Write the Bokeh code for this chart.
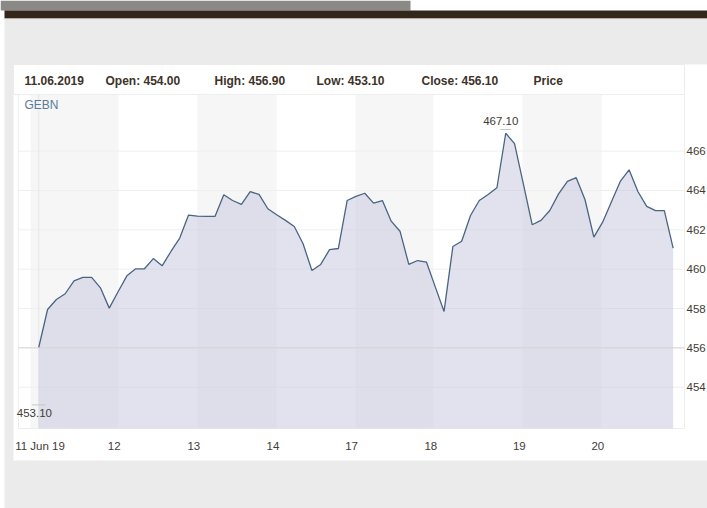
from bokeh.plotting import figure
from bokeh.models import Range1d
from bokeh.core.properties import value
from bokeh.embed import file_html
from bokeh.resources import INLINE

# ---------------- data ----------------
prices = [456.03, 457.95, 458.46, 458.75, 459.41, 459.58, 459.58, 459.05, 458.02, 458.85,
          459.66, 460.02, 460.02, 460.54, 460.17, 460.90, 461.58, 462.75, 462.70, 462.68,
          462.68, 463.78, 463.49, 463.29, 463.94, 463.80, 463.07, 462.77, 462.48, 462.17,
          461.29, 459.93, 460.24, 460.99, 461.05, 463.49, 463.70, 463.86, 463.36, 463.49,
          462.44, 461.93, 460.24, 460.44, 460.36, 459.10, 457.85, 461.15, 461.42, 462.73,
          463.49, 463.80, 464.14, 466.91, 466.38, 464.34, 462.26, 462.48, 462.98, 463.83,
          464.46, 464.65, 463.53, 461.63, 462.39, 463.43, 464.46, 465.05, 463.95, 463.19,
          462.98, 462.98, 461.07]
idx = list(range(len(prices)))

day_labels = ["11 Jun 19", "12", "13", "14", "17", "18", "19", "20"]
day_label_pos = [0.14, 8.56, 17.6, 26.58, 35.5, 44.5, 54.54, 63.45]
day_edges = [-0.94, 9.05, 18.0, 27.0, 35.95, 44.8, 54.9, 63.9, 73.29]
y_ticks = [454, 456, 458, 460, 462, 464, 466]

ticker_name = "GEBN"
date_str = "11.06.2019"
open_px = 454.00
high_px = 456.90
low_px = 453.10
close_px = 456.10
ref_level = 456
session_high = 467.10
session_high_idx = 53
session_low = 453.10
session_low_idx = 0

# visible value window of the chart area
x_lo, x_hi = -2.30, 73.29
y_lo, y_hi = 451.9, 468.88

# ---------------- layout (canvas pixels) ----------------
W, H = 707, 508
CH_L, CH_R, CH_T, CH_B = 18, 684, 94, 428   # chart area

FONT = "Liberation Sans"
TXT = "#3d3329"
AX = "#3f3b36"

kx = (CH_R - CH_L) / (x_hi - x_lo)
ky = (CH_B - CH_T) / (y_hi - y_lo)
xr = Range1d(x_lo - CH_L / kx, x_hi + (W - CH_R) / kx)
yr = Range1d(y_lo - (H - CH_B) / ky, y_hi + CH_T / ky)

p = figure(width=W, height=H, output_backend="svg", toolbar_location=None,
           x_range=xr, y_range=yr, x_axis_location=None, y_axis_location=None,
           min_border=0, min_border_left=0, min_border_right=0,
           min_border_top=0, min_border_bottom=0)
p.extra_x_ranges = {"px": Range1d(0, W)}
p.extra_y_ranges = {"px": Range1d(H, 0)}
p.grid.visible = False
p.outline_line_color = None
p.border_fill_color = "white"
p.background_fill_color = "white"

def pbox(l, r, t, b, fill, line=None):
    p.quad(left=[l], right=[r], top=[t], bottom=[b], x_range_name="px", y_range_name="px",
           fill_color=fill, fill_alpha=1 if fill else 0, line_color=line, line_width=1)

# page decorations
pbox(0, 410, 0, 10, "#8a8985")
pbox(4, W, 10, 18, "#33261a")
pbox(4, W, 18, 19, "#cfc9c2")
pbox(4, W, 19, H, "#ebebeb")
pbox(13, W, 64, 460, "white")

# day bands
band_l = [day_edges[k] for k in range(0, len(day_edges) - 1, 2)]
band_r = [day_edges[k + 1] for k in range(0, len(day_edges) - 1, 2)]
p.quad(left=band_l, right=band_r, top=[CH_T] * len(band_l), bottom=[CH_B] * len(band_l),
       y_range_name="px", fill_color="#f6f6f6", line_color=None)

# header box and chart outline
pbox(13, CH_R, 64, CH_T, None, "#ececec")
pbox(CH_L, CH_R, CH_T, CH_B, None, "#eeeeee")

# grid lines
p.segment(x0=[x_lo] * len(y_ticks), x1=[x_hi] * len(y_ticks), y0=y_ticks, y1=y_ticks,
          line_color="#efefef", line_width=1)
p.segment(x0=[session_low_idx], x1=[session_low_idx], y0=[y_lo], y1=[y_hi],
          line_color="#e6e6e6", line_width=1)

# series
p.varea(x=idx, y1=[y_lo] * len(idx), y2=prices, fill_color="#c3c5dc", fill_alpha=0.5)
p.segment(x0=[x_lo], x1=[x_hi], y0=[ref_level], y1=[ref_level],
          line_color="#d6d6d6", line_width=1)
p.line(x=idx, y=prices, line_color="#4a6483", line_width=1.3)

# max / min markers
p.scatter(x=[session_high_idx, session_low_idx], y=[session_high, session_low],
          marker="dash", size=[11, 14], line_color="#c8c8c8", line_width=1)
p.text(x=[session_high_idx], y=[session_high], text=[f"{session_high:.2f}"],
       x_offset=-5, y_offset=-5, text_align="center", text_baseline="bottom",
       text_font=value(FONT), text_font_size="11.5px", text_color=AX)
p.text(x=[session_low_idx], y=[session_low], text=[f"{session_low:.2f}"],
       x_offset=-22, y_offset=4, text_align="left", text_baseline="top",
       text_font=value(FONT), text_font_size="11.5px", text_color=AX)

# header
header = [date_str, f"Open: {open_px:.2f}", f"High: {high_px:.2f}",
          f"Low: {low_px:.2f}", f"Close: {close_px:.2f}", "Price"]
header_x = [24, 105, 214, 316, 421, 533]
p.text(x=header_x, y=[80] * len(header), text=header, x_range_name="px", y_range_name="px",
       text_font=value(FONT), text_font_size="12px", text_font_style="bold",
       text_color=TXT, text_align="left", text_baseline="middle")
p.text(x=[24], y=[104], text=[ticker_name], x_range_name="px", y_range_name="px",
       text_font=value(FONT), text_font_size="12px", text_color="#5b7999",
       text_align="left", text_baseline="middle")

# x axis labels
p.text(x=day_label_pos, y=[445] * len(day_labels), text=day_labels, y_range_name="px",
       text_font=value(FONT), text_font_size="11.5px", text_color=AX,
       text_align="center", text_baseline="middle")
# y axis labels
p.text(x=[CH_R + 2] * len(y_ticks), y=y_ticks, text=[str(t) for t in y_ticks],
       x_range_name="px", text_font=value(FONT), text_font_size="11.5px", text_color=AX,
       text_align="left", text_baseline="middle")

open("out.html", "w").write(file_html(p, INLINE))
